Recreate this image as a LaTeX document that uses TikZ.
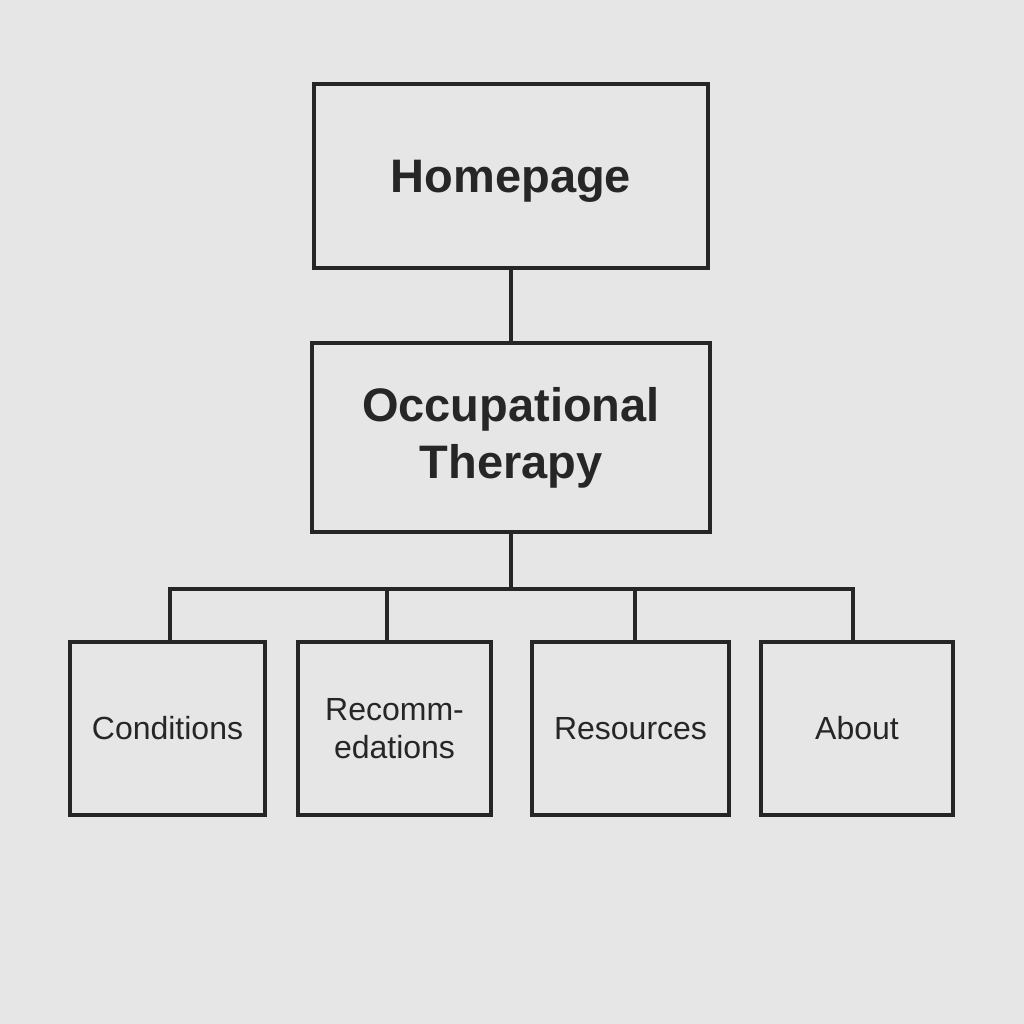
\documentclass[tikz,border=0pt]{standalone}
\usepackage{fontspec}
\setmainfont{Liberation Sans}
\usepackage{tikz}
\usetikzlibrary{positioning, calc}
\definecolor{paper}{HTML}{E6E6E6}
\definecolor{ink}{HTML}{262626}
\tikzset{page/.style={x=0.5pt, y=-0.5pt}}
\tikzset{topbox/.style={draw=ink, line width=2pt, text=ink, align=center,
    font=\fontsize{23.5}{28.5}\selectfont\bfseries}}
\tikzset{leafbox/.style={draw=ink, line width=2pt, text=ink, align=center,
    minimum height=86.5pt, font=\fontsize{16}{19}\selectfont}}
\tikzset{wire/.style={draw=ink, line width=1.6pt}}

\begin{document}
\begin{tikzpicture}[page]
      \fill[paper] (0,0) rectangle (1024,1024);
      \useasboundingbox (0,0) rectangle (1024,1024);

      \node[topbox, minimum width=197pt, minimum height=92pt, text depth=0pt] (home) at (511,176) {Homepage};
      \node[topbox, minimum width=199pt, minimum height=94.5pt] (ot) [below=35.5pt of home] {Occupational\\Therapy};

      \node[leafbox, minimum width=97.5pt] (c0) at (167.5,728.5) {Conditions};
      \node[leafbox, minimum width=96.5pt] (c1) at (394.5,728.5) {Recomm-\\edations};
      \node[leafbox, minimum width=98.5pt] (c2) at (630.5,728.5) {Resources};
      \node[leafbox, minimum width=96pt] (c3) at (857,728.5) {About};

      \coordinate (bus) at (511,589);

      \draw[wire] (home) -- (ot);
      \draw[wire] (ot) -- (bus);
      \draw[wire] ([xshift=1.25pt]c0.north) |- (bus) -| ([xshift=-2pt]c3.north);
      \draw[wire] ([xshift=-3.75pt]c1.north) -- ([xshift=-3.75pt]c1.north |- bus);
      \draw[wire] ([xshift=2.25pt]c2.north) -- ([xshift=2.25pt]c2.north |- bus);

    \end{tikzpicture}
\end{document}
